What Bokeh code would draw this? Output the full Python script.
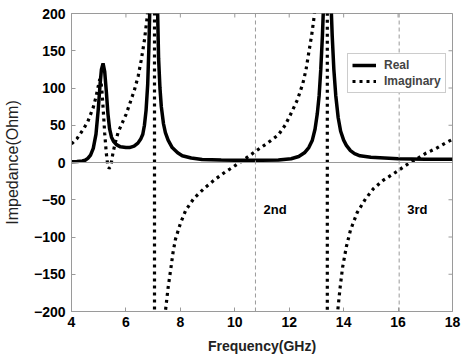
import math
from bokeh.plotting import figure
from bokeh.models import Span, Label, Legend, LegendItem, FixedTicker, Range1d
from bokeh.embed import file_html
from bokeh.resources import INLINE

# ---- data ----
freq_real = [4.0, 4.2, 4.4, 4.5, 4.6, 4.7, 4.8, 4.9, 4.98, 5.05, 5.1, 5.16, 5.22, 5.28, 5.34,
             5.4, 5.47, 5.55, 5.65, 5.8, 6.0, 6.13, 6.3, 6.44, 6.55, 6.62, 6.68, 6.74, 6.8,
             6.84, 6.88, 6.95, 7.03, 7.1, 7.16, 7.2, 7.25, 7.3, 7.38, 7.45, 7.55, 7.7, 7.9,
             8.07, 8.4, 8.8, 9.5, 10.0, 11.0, 11.6, 12.07, 12.35, 12.56, 12.72, 12.85, 12.95,
             13.03, 13.1, 13.16, 13.22, 13.27, 13.33, 13.4, 13.47, 13.53, 13.58, 13.64, 13.71,
             13.8, 13.89, 14.0, 14.1, 14.25, 14.4, 14.6, 15.0, 15.5, 16.0, 17.0, 18.0]
real = [1, 1.2, 2, 3, 5.5, 10, 19, 38, 70, 105, 125, 133, 122, 95, 65,
        45, 34, 28, 24, 21, 20, 20, 22, 26, 32, 38, 50, 70, 105,
        150, 210, 500, 1000, 500, 210, 140, 100, 75, 52, 40, 30, 20, 13,
        9, 6, 4, 3.2, 3, 3, 3.5, 5, 8, 13, 20, 30, 45,
        65, 90, 125, 170, 220, 500, 1000, 500, 220, 170, 125, 90,
        60, 42, 30, 23, 16, 12, 9, 7, 6, 5, 4.5, 4.5]

freq_imag = [4.0, 4.2, 4.44, 4.6, 4.8, 4.9, 4.98, 5.04, 5.08, 5.12, 5.16, 5.22, 5.28, 5.33,
             5.38, 5.44, 5.53, 5.62, 5.71, 5.85, 6.01, 6.15, 6.31, 6.45, 6.56, 6.68, 6.78,
             6.88, 6.97, 7.05, 7.05, 7.2, 7.35, 7.45, 7.55, 7.64, 7.73, 7.82, 8.0, 8.2, 8.5,
             8.9, 9.3, 9.64, 9.9, 10.18, 10.5, 10.8, 11.2, 11.6, 11.85, 12.07, 12.3, 12.5,
             12.62, 12.73, 12.83, 12.92, 13.05, 13.2, 13.4, 13.4, 13.6, 13.72, 13.78, 13.87,
             13.96, 14.1, 14.25, 14.5, 14.8, 15.1, 15.45, 15.75, 16.0, 16.2, 16.44, 16.7,
             17.0, 17.4, 17.78, 18.0]
imag = [25, 32, 45, 55, 74, 88, 102, 112, 110, 95, 74, 39, 12, -3,
        -8, -5, 14, 28, 40, 52, 65, 80, 97, 116, 137, 164, 195,
        240, 350, 3000, -3000, -500, -270, -200, -168, -145, -121, -103, -82, -64, -48,
        -34, -22, -13, -7, 0, 8, 16, 26, 37, 50, 66, 84, 106,
        125, 150, 172, 197, 250, 400, 3000, -3000, -320, -230, -200, -168,
        -141, -113, -91, -67, -49, -35, -24, -17, -11, -6, 0, 5,
        12, 19, 27, 31]

x_ticks = [4, 6, 8, 10, 12, 14, 16, 18]
y_ticks = [-200, -150, -100, -50, 0, 50, 100, 150, 200]
harmonic_freqs = [10.76, 16.04]
harmonic_labels = ["2nd", "3rd"]
harmonic_label_y = [-63, -63]

FONT = "Liberation Sans"
GREY = "#9a9a9a"

p = figure(width=470, height=362, x_range=Range1d(x_ticks[0], x_ticks[-1]),
           y_range=Range1d(y_ticks[0], y_ticks[-1]),
           output_backend="svg", toolbar_location=None,
           min_border_left=68, min_border_right=18, min_border_top=13, min_border_bottom=51)
p.background_fill_color = "white"
p.border_fill_color = "white"
p.outline_line_color = GREY
p.outline_line_width = 1
p.xgrid.visible = False
p.ygrid.visible = False

for ax in (p.xaxis[0], p.yaxis[0]):
    ax.major_tick_in = 4
    ax.major_tick_out = 0
    ax.minor_tick_in = 0
    ax.minor_tick_out = 0
    ax.axis_line_color = GREY
    ax.major_tick_line_color = GREY
    ax.major_label_text_font = FONT
    ax.major_label_text_font_style = "bold"
    ax.major_label_text_font_size = "14px"
    ax.major_label_text_color = "black"

p.xaxis.ticker = FixedTicker(ticks=x_ticks)
p.yaxis.ticker = FixedTicker(ticks=y_ticks)
p.xaxis.major_label_standoff = 5
p.yaxis.major_label_standoff = 6

p.xaxis.axis_label = "Frequency(GHz)"
p.xaxis.axis_label_text_font = FONT
p.xaxis.axis_label_text_font_style = "bold"
p.xaxis.axis_label_text_font_size = "14px"
p.xaxis.axis_label_text_color = "#222222"
p.xaxis.axis_label_standoff = 8

p.yaxis.axis_label = "Impedance(Ohm)"
p.yaxis.axis_label_text_font = FONT
p.yaxis.axis_label_text_font_style = "normal"
p.yaxis.axis_label_text_font_size = "16px"
p.yaxis.axis_label_text_color = "#222222"
p.yaxis.axis_label_standoff = 10

# inward tick marks on the top and right edges of the box (clipped to the frame)
p.scatter(x=x_ticks, y=[y_ticks[-1]] * len(x_ticks), marker="dash", size=8,
          angle=math.pi / 2, line_color=GREY, line_width=1)
p.scatter(x=[x_ticks[-1]] * len(y_ticks), y=y_ticks, marker="dash", size=8,
          line_color=GREY, line_width=1)

# zero line and harmonic markers
p.add_layout(Span(location=0, dimension="width", line_color=GREY, line_width=1))
for f, lab, ly in zip(harmonic_freqs, harmonic_labels, harmonic_label_y):
    p.add_layout(Span(location=f, dimension="height", line_color=GREY, line_width=1,
                      line_dash="4 3"))
    p.add_layout(Label(x=f, y=ly, x_offset=8, text=lab, text_font=FONT,
                       text_font_style="bold", text_font_size="13px",
                       text_baseline="middle", text_color="black"))

r_real = p.line(freq_real, real, line_color="black", line_width=3.5)
r_imag = p.line(freq_imag, imag, line_color="black", line_width=3.2,
                line_dash="3 4", line_cap="butt")

legend = Legend(items=[LegendItem(label="Real", renderers=[r_real]),
                       LegendItem(label="Imaginary", renderers=[r_imag])],
                location=(276, 218))
legend.label_text_font = FONT
legend.label_text_font_style = "bold"
legend.label_text_font_size = "12px"
legend.border_line_color = GREY
legend.border_line_width = 1
legend.background_fill_color = "white"
legend.background_fill_alpha = 1
legend.padding = 4
legend.spacing = 2
legend.margin = 0
legend.glyph_width = 24
legend.glyph_height = 12
legend.label_height = 12
legend.label_standoff = 8
p.add_layout(legend)

open("out.html", "w").write(file_html(p, INLINE))
